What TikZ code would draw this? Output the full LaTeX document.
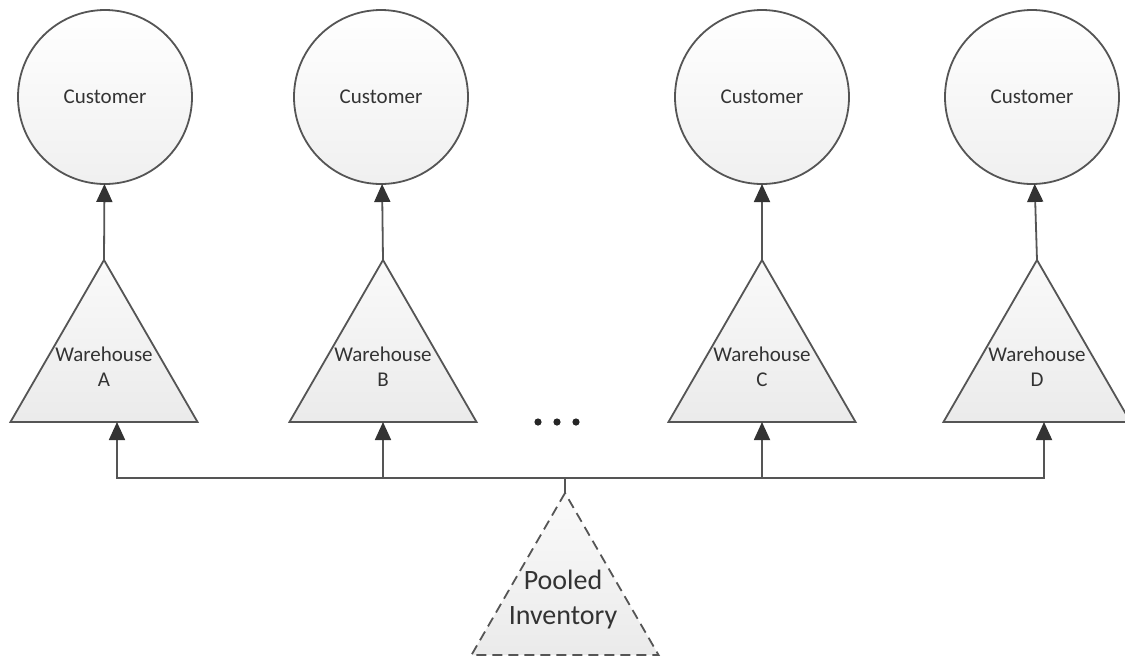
\documentclass[tikz,border=0pt]{standalone}
\usepackage{fontspec}
\setmainfont{Carlito}
\usetikzlibrary{shapes.geometric,arrows.meta}
\definecolor{edge}{HTML}{555555}
\definecolor{ink}{HTML}{333333}
\tikzset{
  custnode/.style={circle, draw=edge, line width=1.8pt, minimum size=174pt, inner sep=0pt, outer sep=0pt,
    top color=white, bottom color=gray!12, text=ink, font=\fontsize{21}{25}\selectfont},
  whnode/.style={regular polygon, regular polygon sides=3, draw=edge, line width=1.8pt, minimum size=216pt,
    inner sep=0pt, outer sep=0pt, top color=gray!4, bottom color=gray!16},
  whtext/.style={align=center, text=ink, font=\fontsize{21}{25}\selectfont, inner sep=0pt},
  pooltext/.style={align=center, text=ink, font=\fontsize{28}{35}\selectfont, inner sep=0pt},
  conn/.style={draw=edge, line width=1.8pt},
  arr/.style={conn, -{Triangle[length=18pt,width=16pt,color=black!80]}},
}
\begin{document}
\begin{tikzpicture}[x=1pt,y=-1pt]
\useasboundingbox[fill=white] (0,0) rectangle (1125,657);

% customers
\node[custnode] (cA) at (105,97) {Customer};
\node[custnode] (cB) at (381,97) {Customer};
\node[custnode] (cC) at (762,97) {Customer};
\node[custnode] (cD) at (1032,97) {Customer};

% warehouses
\node[whnode] (tA) at (104,368) {};
\node[whnode] (tB) at (383,368) {};
\node[whnode] (tC) at (762,368) {};
\node[whnode] (tD) at (1037,368) {};
\node[whtext] (lA) at (104,367) {Warehouse\\A};
\node[whtext] (lB) at (383,367) {Warehouse\\B};
\node[whtext] (lC) at (762,367) {Warehouse\\C};
\node[whtext] (lD) at (1037,367) {Warehouse\\D};

% pooled inventory
\node[whnode, dashed, dash pattern=on 10pt off 6pt] (pool) at (565,601) {};
\node[pooltext] (lpool) at (563,600) {Pooled\\Inventory};

% ellipsis
\foreach \x in {538,557,576} \fill[black!85] (\x,422) circle (3.6);

% warehouse to customer
\draw[arr] (tA.corner 1) -- (cA);
\draw[arr] (tB.corner 1) -- (cB);
\draw[arr] (tC.corner 1) -- (cC);
\draw[arr] (tD.corner 1) -- (cD);

% distribution bus
\coordinate (bus) at (565,478);
\draw[conn] (pool.corner 1) -- (bus);
\draw[arr] (bus) -| ([xshift=13pt]tA.south);
\draw[arr] (bus) -| (tB.south);
\draw[arr] (bus) -| (tC.south);
\draw[arr] (bus) -| ([xshift=7pt]tD.south);
\end{tikzpicture}
\end{document}
